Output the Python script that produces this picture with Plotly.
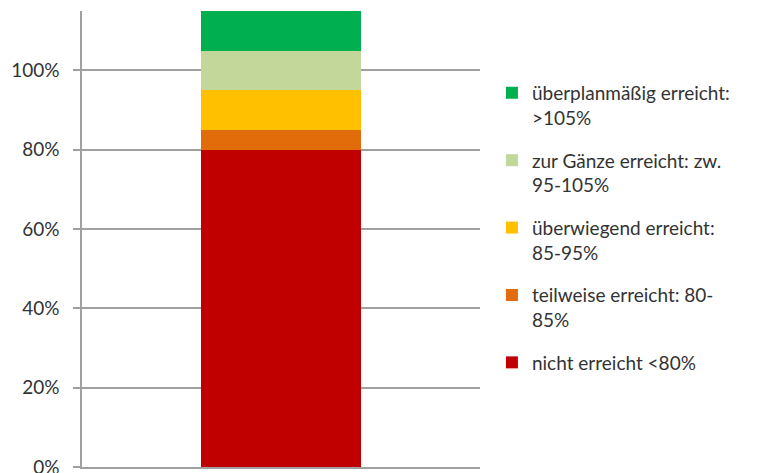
import plotly.graph_objects as go

categories = ["Zielerreichung"]
series_names = [
    "nicht erreicht <80%",
    "teilweise erreicht: 80-<br>85%",
    "überwiegend erreicht:<br>85-95%",
    "zur Gänze erreicht: zw.<br>95-105%",
    "überplanmäßig erreicht:<br>>105%",
]
series_values = [80, 5, 10, 10, 10]
series_colors = ["#c00000", "#e26b0a", "#ffc000", "#c4d79b", "#00b050"]
tick_values = [0, 20, 40, 60, 80, 100]
tick_labels = ["0%", "20%", "40%", "60%", "80%", "100%"]

fig = go.Figure()
n = len(series_names)
for i, (name, val, col) in enumerate(zip(series_names, series_values, series_colors)):
    fig.add_trace(go.Bar(
        x=categories, y=[val], name=name,
        marker=dict(color=col, line=dict(width=0)),
        legendgroup=f"g{i}",
        legendrank=1000 + (n - i),
    ))

fig.update_layout(
    barmode="stack",
    bargap=0.6,
    width=761, height=473,
    margin=dict(l=72, r=289, t=3, b=14),
    plot_bgcolor="white", paper_bgcolor="white",
    font=dict(family="Lato, Calibri, sans-serif", size=19, color="#333333"),
    showlegend=True,
    legend=dict(
        x=1.03, xanchor="left", y=0.862, yanchor="top",
        traceorder="grouped", tracegroupgap=15, valign="top",
        font=dict(size=19, color="#333333"),
        bgcolor="rgba(0,0,0,0)",
    ),
    xaxis=dict(showticklabels=False, showline=True, linecolor="#a0a0a0", linewidth=1.5,
               showgrid=False, ticks=""),
    yaxis=dict(range=[0, 115], tickvals=tick_values, ticktext=tick_labels,
               showgrid=True, gridcolor="#a0a0a0", gridwidth=1.5,
               showline=True, linecolor="#a0a0a0", linewidth=1.5,
               ticks="outside", ticklen=7, tickcolor="#a0a0a0", tickwidth=1.5,
               ticklabelstandoff=10, zeroline=False),
)

fig.write_html("out.html")
